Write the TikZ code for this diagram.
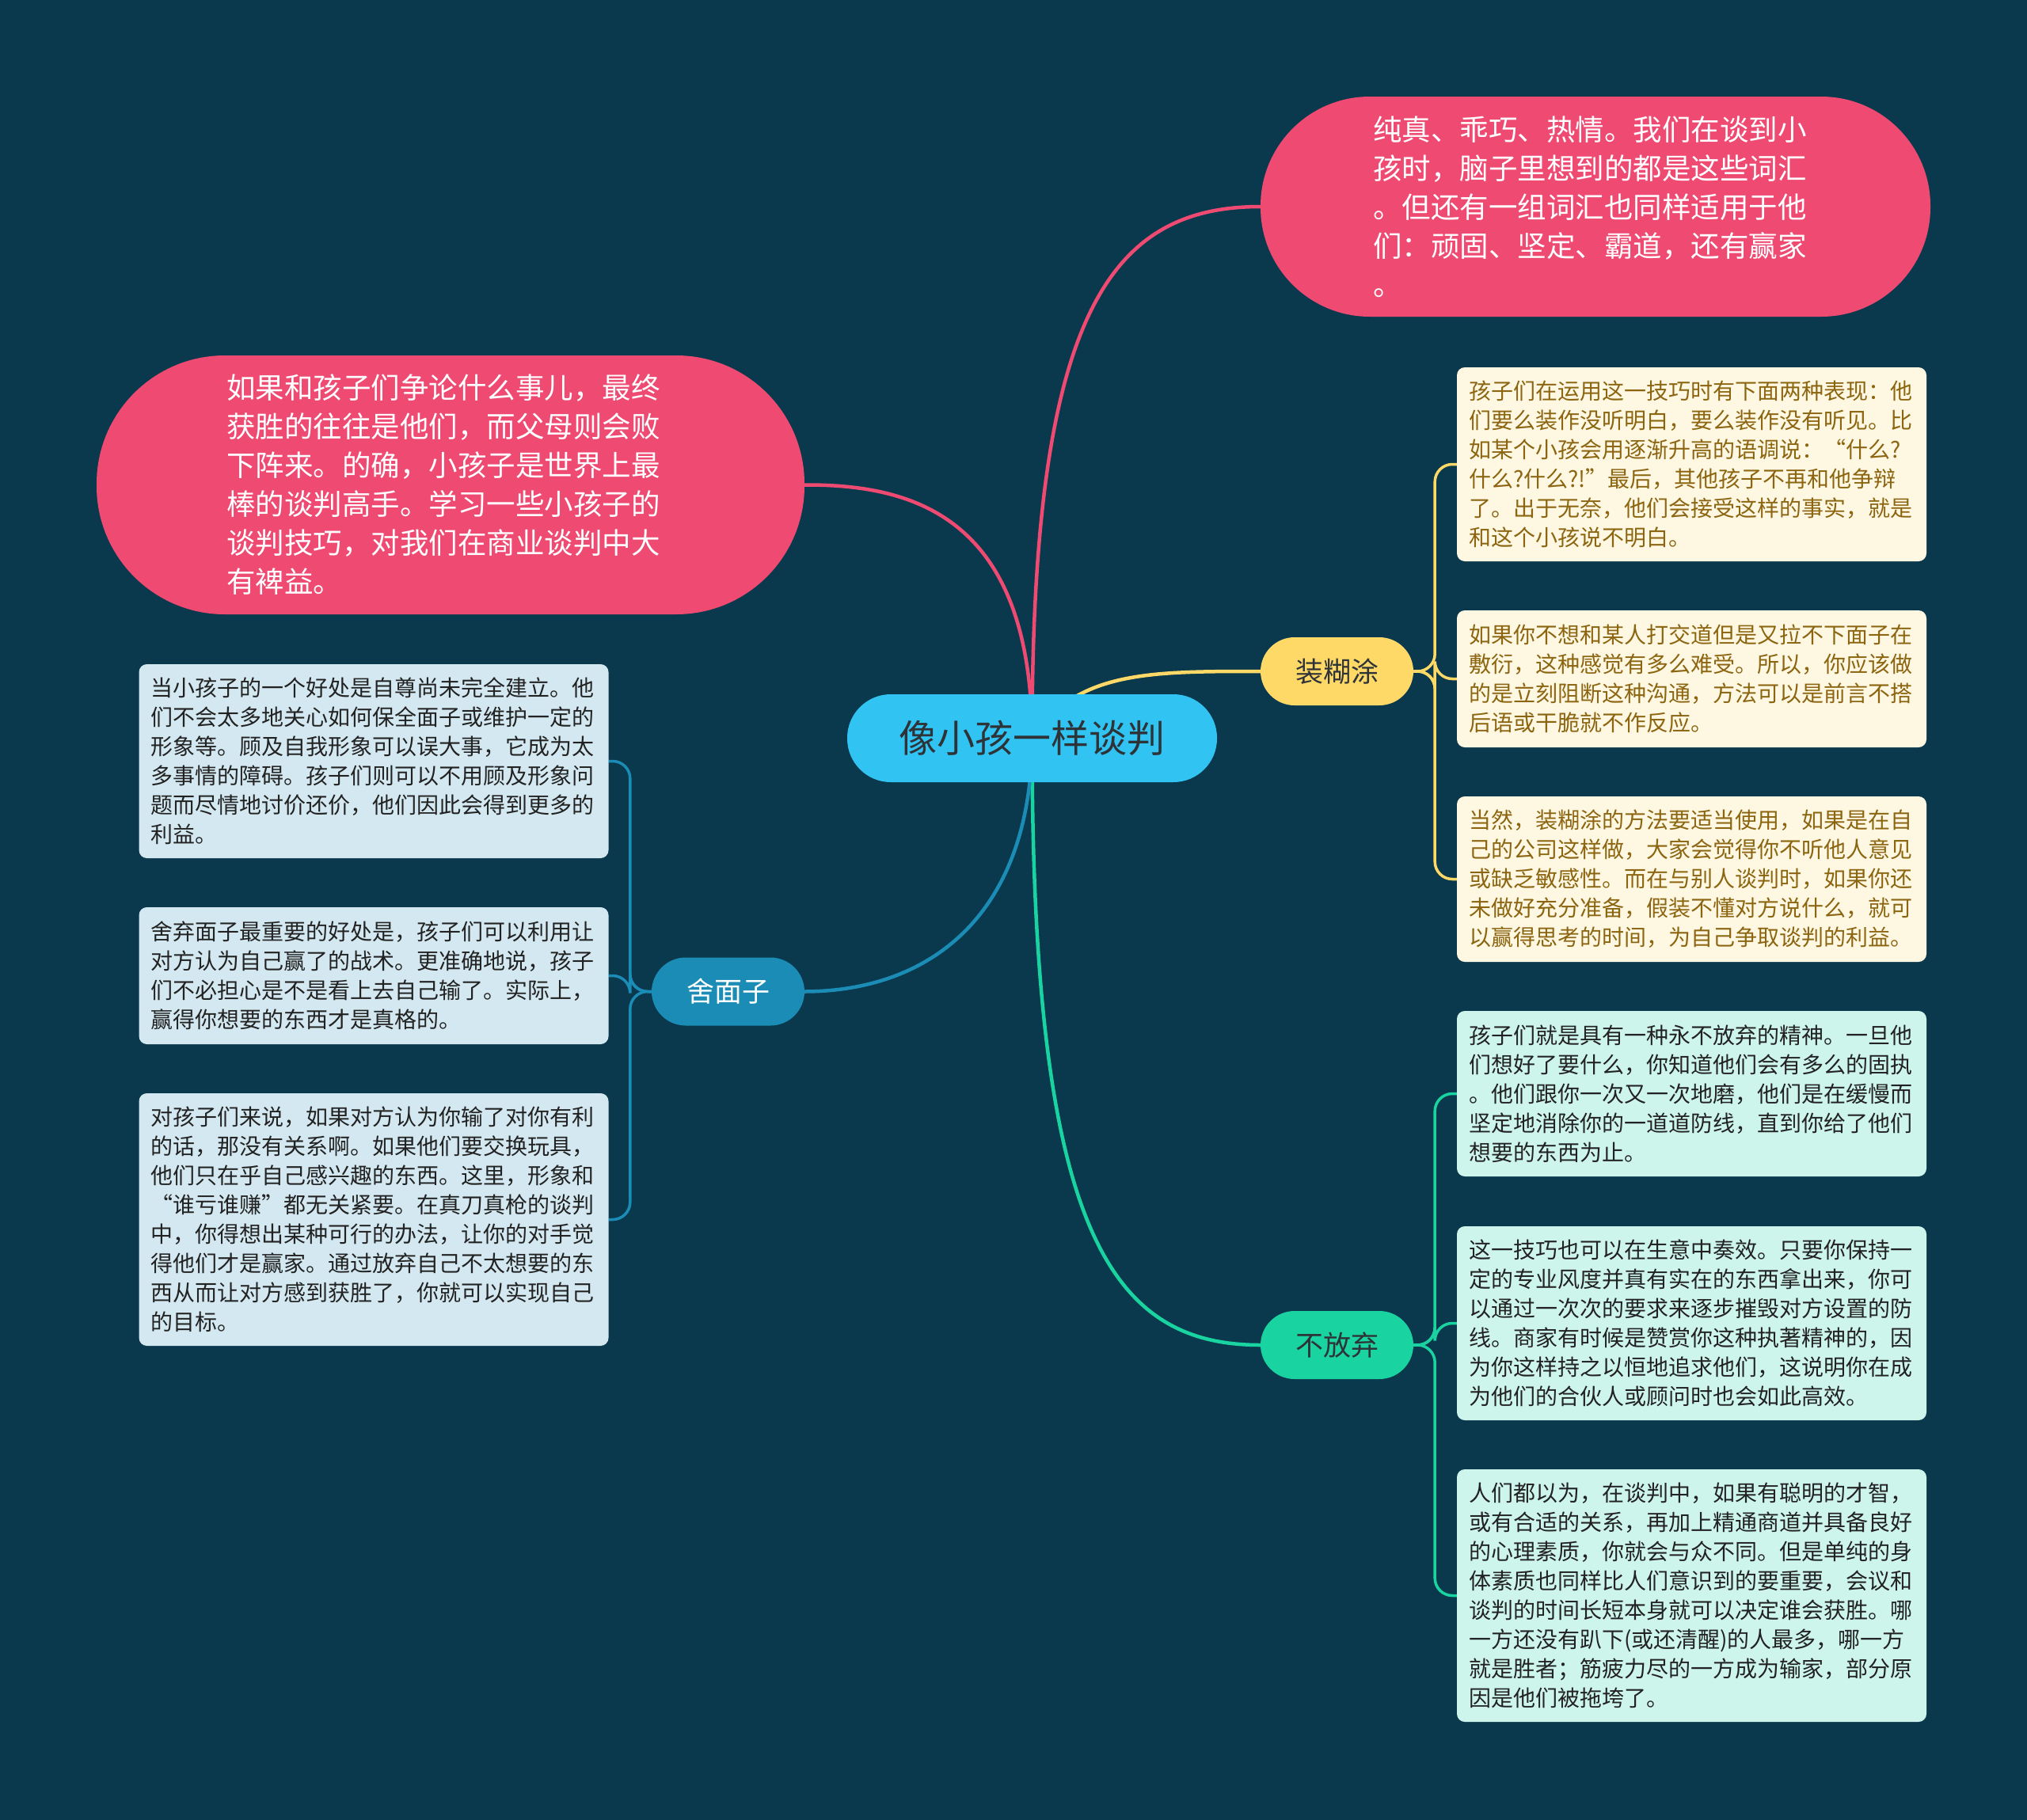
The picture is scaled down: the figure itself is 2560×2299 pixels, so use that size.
\documentclass[tikz,border=0pt]{standalone}
\usepackage{fontspec}
\setmainfont{Noto Sans CJK SC}
\definecolor{bgc}{HTML}{0A394D}
\definecolor{pinkc}{HTML}{EE4A72}
\definecolor{rootc}{HTML}{31C4F3}
\definecolor{yelc}{HTML}{FFD967}
\definecolor{grnc}{HTML}{19D3A0}
\definecolor{bluc}{HTML}{1A8CB5}
\definecolor{creamc}{HTML}{FEF7E2}
\definecolor{creamtxt}{HTML}{8C6510}
\definecolor{lbluc}{HTML}{D3E8F0}
\definecolor{lgrnc}{HTML}{CDF5EC}
\definecolor{darktxt}{HTML}{222222}
\definecolor{roottxt}{HTML}{2E3338}
\pgfdeclarelayer{bglayer}
\pgfdeclarelayer{edgelayer}
\pgfsetlayers{bglayer,edgelayer,main}
\begin{document}
\begin{tikzpicture}[x=1pt,y=-1pt,
  rootnode/.style={fill=rootc, text=roottxt, minimum width=467pt, minimum height=111pt, rounded corners=55pt, inner sep=0pt, font=\fontsize{48}{56}\selectfont},
  lvlone/.style={minimum width=193pt, minimum height=86pt, rounded corners=43pt, inner sep=0pt, font=\fontsize{35}{42}\selectfont},
  pinkbox/.style={fill=pinkc, text=white, inner sep=0pt, align=left, font=\fontsize{36.5}{49}\selectfont},
  leaf/.style={minimum width=593pt, text width=563pt, inner xsep=15pt, inner ysep=0pt, align=left, rounded corners=10pt, font=\fontsize{28}{37}\selectfont},
  yleaf/.style={leaf, fill=creamc, text=creamtxt},
  bleaf/.style={leaf, fill=lbluc, text=darktxt},
  gleaf/.style={leaf, fill=lgrnc, text=darktxt},
  mainline/.style={line width=4.5pt},
  branch/.style={line width=3.5pt, rounded corners=22pt}
]
\begin{pgfonlayer}{bglayer}
\fill[bgc] (0,0) rectangle (2560,2299);
\end{pgfonlayer}
\useasboundingbox (0,0) rectangle (2560,2299);

\node[rootnode] (c) at (1303.5,932.5) {像小孩一样谈判};

\node[lvlone, fill=yelc, text=roottxt] (z) at (1688.5,848) {装糊涂};
\node[lvlone, fill=grnc, text=roottxt] (b) at (1688.5,1699) {不放弃};
\node[lvlone, fill=bluc, text=white] (s) at (919.5,1252.5) {舍面子};

\node[pinkbox, text width=562pt, minimum width=846pt, minimum height=278pt, rounded corners=138pt] (p1) at (2015,261) {纯真、乖巧、热情。我们在谈到小\\孩时，脑子里想到的都是这些词汇\\。但还有一组词汇也同样适用于他\\们：顽固、坚定、霸道，还有赢家\\。};
\node[pinkbox, text width=566pt, minimum width=894pt, minimum height=327pt, rounded corners=162pt] (p2) at (569,612.5) {如果和孩子们争论什么事儿，最终\\获胜的往往是他们，而父母则会败\\下阵来。的确，小孩子是世界上最\\棒的谈判高手。学习一些小孩子的\\谈判技巧，对我们在商业谈判中大\\有裨益。};

\node[yleaf, minimum height=245pt] (r1) at (2136.5,586.5) {孩子们在运用这一技巧时有下面两种表现：他\\们要么装作没听明白，要么装作没有听见。比\\如某个小孩会用逐渐升高的语调说：“什么?\\什么?什么?!”最后，其他孩子不再和他争辩\\了。出于无奈，他们会接受这样的事实，就是\\和这个小孩说不明白。};
\node[yleaf, minimum height=173pt] (r2) at (2136.5,857.5) {如果你不想和某人打交道但是又拉不下面子在\\敷衍，这种感觉有多么难受。所以，你应该做\\的是立刻阻断这种沟通，方法可以是前言不搭\\后语或干脆就不作反应。};
\node[yleaf, minimum height=209pt] (r3) at (2136.5,1110.5) {当然，装糊涂的方法要适当使用，如果是在自\\己的公司这样做，大家会觉得你不听他人意见\\或缺乏敏感性。而在与别人谈判时，如果你还\\未做好充分准备，假装不懂对方说什么，就可\\以赢得思考的时间，为自己争取谈判的利益。};

\node[gleaf, minimum height=209pt] (g1) at (2136.5,1381.5) {孩子们就是具有一种永不放弃的精神。一旦他\\们想好了要什么，你知道他们会有多么的固执\\。他们跟你一次又一次地磨，他们是在缓慢而\\坚定地消除你的一道道防线，直到你给了他们\\想要的东西为止。};
\node[gleaf, minimum height=245pt] (g2) at (2136.5,1671.5) {这一技巧也可以在生意中奏效。只要你保持一\\定的专业风度并真有实在的东西拿出来，你可\\以通过一次次的要求来逐步摧毁对方设置的防\\线。商家有时候是赞赏你这种执著精神的，因\\为你这样持之以恒地追求他们，这说明你在成\\为他们的合伙人或顾问时也会如此高效。};
\node[gleaf, minimum height=319pt] (g3) at (2136.5,2015.5) {人们都以为，在谈判中，如果有聪明的才智，\\或有合适的关系，再加上精通商道并具备良好\\的心理素质，你就会与众不同。但是单纯的身\\体素质也同样比人们意识到的要重要，会议和\\谈判的时间长短本身就可以决定谁会获胜。哪\\一方还没有趴下(或还清醒)的人最多，哪一方\\就是胜者；筋疲力尽的一方成为输家，部分原\\因是他们被拖垮了。};

\node[bleaf, minimum height=245pt] (l1) at (472,961.5) {当小孩子的一个好处是自尊尚未完全建立。他\\们不会太多地关心如何保全面子或维护一定的\\形象等。顾及自我形象可以误大事，它成为太\\多事情的障碍。孩子们则可以不用顾及形象问\\题而尽情地讨价还价，他们因此会得到更多的\\利益。};
\node[bleaf, minimum height=173pt] (l2) at (472,1232.5) {舍弃面子最重要的好处是，孩子们可以利用让\\对方认为自己赢了的战术。更准确地说，孩子\\们不必担心是不是看上去自己输了。实际上，\\赢得你想要的东西才是真格的。};
\node[bleaf, minimum height=319pt] (l3) at (472,1540.5) {对孩子们来说，如果对方认为你输了对你有利\\的话，那没有关系啊。如果他们要交换玩具，\\他们只在乎自己感兴趣的东西。这里，形象和\\“谁亏谁赚”都无关紧要。在真刀真枪的谈判\\中，你得想出某种可行的办法，让你的对手觉\\得他们才是赢家。通过放弃自己不太想要的东\\西从而让对方感到获胜了，你就可以实现自己\\的目标。};

\begin{pgfonlayer}{edgelayer}
\draw[mainline, pinkc] (c.center) .. controls (1303,400) and (1400,261) .. (p1.west);
\draw[mainline, pinkc] (c.center) .. controls (1303,650) and (1150,612) .. (p2.east);
\draw[mainline, yelc] (c.center) .. controls (1360,848) and (1450,848) .. (z.west);
\draw[mainline, grnc] (c.center) .. controls (1303,1550) and (1400,1699) .. (b.west);
\draw[mainline, bluc] (c.center) .. controls (1303,1150) and (1180,1252) .. (s.east);

\draw[branch, yelc] (z.east) -- ++(27,0) |- (r1.west);
\draw[branch, yelc] (z.east) -- ++(27,0) |- (r2.west);
\draw[branch, yelc] (z.east) -- ++(27,0) |- (r3.west);
\draw[branch, grnc] (b.east) -- ++(27,0) |- (g1.west);
\draw[branch, grnc] (b.east) -- ++(27,0) |- (g2.west);
\draw[branch, grnc] (b.east) -- ++(27,0) |- (g3.west);
\draw[branch, bluc] (s.west) -- ++(-27,0) |- (l1.east);
\draw[branch, bluc] (s.west) -- ++(-27,0) |- (l2.east);
\draw[branch, bluc] (s.west) -- ++(-27,0) |- (l3.east);
\end{pgfonlayer}
\end{tikzpicture}
\end{document}
